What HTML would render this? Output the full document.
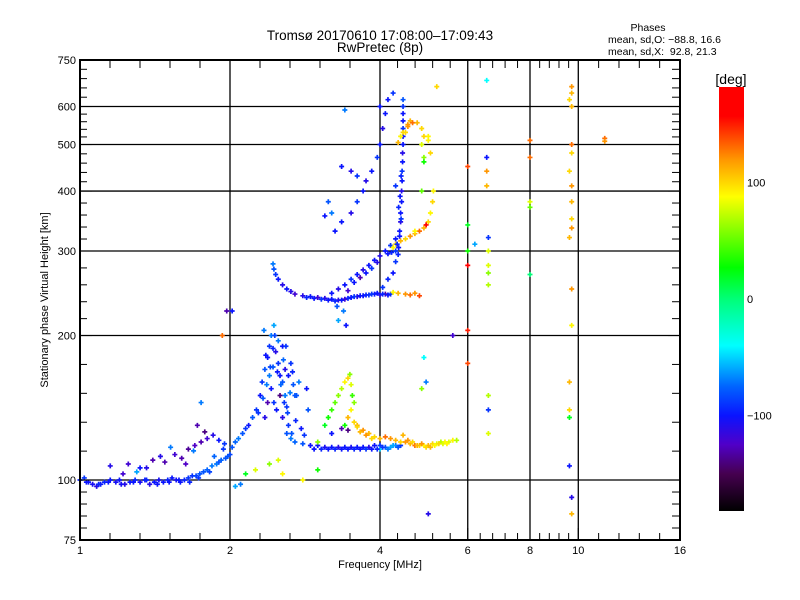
<!DOCTYPE html>
<html><head><meta charset="utf-8"><style>
body{margin:0;background:#fff;}
svg{display:block;font-family:"Liberation Sans","DejaVu Sans",sans-serif;}
</style></head><body>
<svg id="c" width="800" height="600" viewBox="0 0 800 600">
<g id="grid"></g>
<g id="pts"></g>
<g id="axes"></g>
<g id="cbar"></g>
<text x="380" y="40" text-anchor="middle" font-size="13.5">Tromsø 20170610 17:08:00–17:09:43</text>
<text x="380" y="52" text-anchor="middle" font-size="13.5">RwPretec (8p)</text>
<text x="648" y="31" text-anchor="middle" font-size="10.5">Phases</text>
<text x="608" y="43" font-size="10.5">mean, sd,O: −88.8, 16.6</text>
<text x="608" y="55" font-size="10.5" xml:space="preserve">mean, sd,X:  92.8, 21.3</text>
<text x="380" y="568" text-anchor="middle" font-size="11">Frequency [MHz]</text>
<text transform="translate(48,300) rotate(-90)" text-anchor="middle" font-size="11">Stationary phase Virtual Height [km]</text>
</svg>
<script>
const xMajor=[1,2,4,6,8,10,16];
const xGrid=[2,4,6,8,10];
const yLabels=[75,100,200,300,400,500,600,750];
const yGrid=[100,200,300,400,500,600];
const cbTicks=[100,0,-100];
const freq=[1.00,1.02,1.04,1.06,1.08,1.10,1.12,1.15,1.18,1.20,1.23,1.26,1.29,1.32,1.35,1.38,1.41,1.44,1.47,1.50,1.53,1.56,1.59,1.62,1.65,1.68,1.71,1.74,1.77,1.80,1.84,1.88,1.92,1.96,2.00,
1.15,1.25,1.32,1.40,1.45,1.55,1.60,1.65,1.70,1.75,1.80,1.85,1.90,1.95,1.52,1.72,1.78,1.30,
2.02,2.05,2.08,2.12,2.15,2.18,2.22,2.26,2.30,2.32,2.35,2.38,2.40,2.42,2.45,2.47,2.50,2.52,2.55,2.58,2.42,2.45,2.48,2.35,2.55,2.60,2.62,2.65,2.68,2.70,2.50,2.55,2.40,2.58,2.38,2.52,2.75,2.85,2.87,
2.60,2.65,2.70,2.80,2.90,3.0,3.1,3.2,3.3,3.4,3.5,3.6,3.7,3.8,3.9,4.0,4.1,4.2,4.3,4.4,4.0,
3.10,3.15,3.20,3.25,3.30,3.35,3.40,3.45,3.50,3.52,3.55,3.50,3.45,3.40,3.48,
3.55,3.6,3.7,3.8,3.9,4.0,4.1,4.2,4.3,4.4,4.5,4.6,4.7,4.8,4.9,5.0,5.1,5.2,5.3,5.4,5.5,5.6,5.7,3.35,3.45,3.2,
2.44,2.45,2.47,2.50,2.55,2.60,2.65,2.70,2.80,2.90,3.0,3.1,3.2,3.3,3.4,3.5,3.6,3.7,3.8,3.9,4.0,4.1,4.2,
4.25,4.35,4.5,4.6,4.7,4.8,
3.2,3.3,3.4,3.5,3.6,3.7,3.8,3.9,4.0,4.1,4.2,4.3,3.45,3.55,3.65,3.75,3.85,3.95,
4.38,4.40,4.40,4.42,4.42,4.43,4.43,4.44,4.44,4.45,4.45,4.45,4.45,4.45,4.45,4.45,
3.25,3.35,3.5,3.6,3.7,3.75,3.85,3.95,4.0,4.05,4.1,4.15,4.25,
3.15,3.2,3.1,3.35,3.5,3.6,4.0,3.4,
4.25,4.3,4.4,4.5,4.6,4.7,4.8,4.9,5.0,5.05,5.1,5.12,4.95,4.7,
4.6,4.55,4.5,4.4,4.85,5.2,4.9,5.0,4.85,4.9,
6.0,6.0,6.0,6.0,6.0,6.0,
6.55,6.55,6.55,6.55,6.6,6.6,6.6,6.6,6.6,6.6,6.6,6.6,6.2,
8.0,8.0,8.0,8.0,8.0,
9.7,9.7,9.6,9.7,9.7,9.7,9.6,9.7,9.7,9.7,9.7,9.6,9.7,9.7,9.6,9.6,9.6,9.6,9.7,9.7,
11.3,11.3,
1.97,2.02,1.93,1.75,2.15,2.25,2.4,2.55,2.8,2.1,2.05,2.5,3.0,3.0,5.0,5.6,4.9,4.95,4.85,
1.03,1.09,1.14,1.21,1.28,1.36,1.43,1.51,1.58,1.66,1.73,1.82,1.90,1.98,1.22,1.36,1.48,1.63,1.69,1.86,1.94,
2.28,2.33,2.37,2.41,2.44,2.49,2.53,2.57,2.61,2.64,2.67,2.72,2.36,2.46,2.56,2.62,2.66,2.71,2.78,2.82,2.34,2.44,2.59,
2.95,3.05,3.15,3.25,3.35,3.45,3.55,3.65,3.75,3.85,3.95,4.05,4.15,4.25,4.35,
2.85,2.95,3.05,3.15,3.25,3.35,3.45,3.55,3.65,3.75,3.85,3.95,4.05,4.15,
4.05,4.15,4.25,4.3,4.35,4.15,4.22,4.3,4.36,4.33,4.38,4.41,4.36,4.39,4.30,4.41,
4.45,4.55,4.65,4.75,4.85,4.95,5.05,5.15,5.25,5.35,5.45,3.6,3.65,3.75,3.85,
4.35,4.45,4.55,4.65,4.75,4.85,4.9,5.0,5.05,3.3,3.38,3.42,3.28];
const height=[100,101,99,98,97,98,99,100,99,100,98,99,100,99,100,98,99,100,99,100,101,100,99,100,101,102,102,103,104,105,107,108,110,111,113,
107,108,106,110,112,113,111,116,118,120,122,124,121,119,117,130,126,104,
117,120,122,125,128,130,135,140,150,160,170,180,190,200,210,185,175,165,160,150,155,145,140,135,135,142,165,175,158,150,195,190,165,170,145,150,160,155,140,
125,122,120,119,118,118,117,117,117,117,117,117,117,117,118,118,117,117,118,118,116,
130,135,140,145,150,155,160,163,158,150,145,140,135,130,166,
132,130,127,125,123,122,123,122,121,120,120,119,118,118,118,118,119,119,120,120,120,121,121,128,127,125,
282,275,268,262,255,250,247,244,242,241,240,239,238,237,238,240,241,242,243,244,243,244,244,
246,245,244,243,245,242,
245,250,255,262,268,274,280,287,293,300,308,318,248,258,264,270,276,284,
330,345,360,380,400,420,440,460,480,500,520,540,560,580,600,620,
330,345,360,380,400,420,440,470,500,540,580,620,640,
380,360,355,450,440,430,600,590,
305,310,315,318,322,326,330,335,345,360,380,400,340,330,
560,550,530,520,500,660,470,520,400,460,
280,205,175,450,340,300,
680,470,440,410,320,300,280,270,255,150,140,125,310,
510,380,370,268,470,
660,640,620,600,500,480,440,410,380,350,335,320,250,210,160,140,135,107,92,85,
515,508,
225,225,200,145,103,105,108,103,100,98,97,110,120,105,85,200,180,160,155,
99,98,99,98,99,100,98,99,100,99,101,104,109,112,103,106,109,108,115,112,116,
138,148,158,172,188,168,158,145,138,152,168,150,182,200,178,130,125,133,128,124,205,172,190,
116,116,116,116,116,116,116,116,116,116,116,117,116,118,117,
240,239,238,237,236,237,239,241,242,243,244,245,244,243,
252,262,270,285,295,296,298,300,305,310,322,350,370,390,410,430,
124,121,120,118,119,117,117,118,119,119,119,129,126,124,122,
505,530,545,555,555,540,520,510,480,215,225,210,230];
const phase=[-95,-90,-100,-105,-110,-100,-95,-100,-105,-100,-110,-100,-95,-105,-100,-110,-100,-105,-100,-95,-100,-105,-100,-95,-90,-90,-85,-80,-80,-75,-70,-70,-75,-80,-85,
-110,-120,-100,-130,-110,-120,-130,-135,-125,-130,-120,-110,-100,-90,-70,-130,-140,-60,
-80,-75,-70,-80,-90,-100,-80,-90,-100,-90,-80,-100,-90,-70,-60,-110,-90,-100,-80,-70,-100,-90,-100,-110,-110,-90,-100,-90,-80,-80,-70,-100,-70,-110,-130,-140,-70,-100,-80,
-80,-70,-75,-80,-100,-100,-105,-100,-110,-100,-105,-100,-100,-110,-100,-90,-80,-60,-70,-90,-50,
20,30,40,50,60,70,90,100,80,40,60,90,110,30,60,
100,110,120,110,100,110,130,120,110,100,120,110,130,100,90,110,100,80,70,90,80,90,70,-130,-140,-100,
-70,-80,-90,-100,-110,-100,-110,-120,-110,-100,-120,-110,-100,-110,-120,-100,-110,-100,-90,-100,-110,-130,-90,
90,110,120,130,120,140,
-100,-110,-100,-90,-100,-110,-100,-100,-110,-100,-90,-100,-120,-100,-130,-100,-90,-110,
-100,-110,-100,-100,-110,-100,-90,-100,-110,-100,-100,-90,-100,-100,-90,-80,
-100,-100,-110,-90,-100,-110,-100,-90,-100,-110,-100,-100,-90,
-80,-70,-100,-100,-110,-90,-100,-70,
90,100,110,100,120,110,130,110,100,90,100,90,160,90,
110,120,100,90,80,100,60,90,50,30,
160,150,140,140,20,30,
-40,-100,120,110,-90,80,80,60,70,70,-90,80,-60,
130,80,50,0,130,
120,110,100,110,130,100,100,120,110,100,120,110,120,90,110,100,20,-100,-110,110,
130,120,
-130,-100,130,-70,20,80,60,90,90,-70,-60,80,60,30,-110,-120,-40,-70,60,
-100,-95,-100,-105,-100,-95,-100,-100,-100,-95,-90,-85,-80,-80,-120,-110,-130,-125,-70,-75,-90,
-90,-80,-70,-85,-95,-100,-75,-90,-85,-70,-95,-80,-100,-85,-75,-90,-80,-95,-100,-90,-70,-80,-90,
-100,-95,-100,-95,-100,-100,-95,-100,-90,-100,-95,-90,-70,-60,-80,
-95,-100,-90,-100,-95,-100,-95,-90,-100,-95,-90,-100,-95,-100,
-90,-95,-100,-90,-95,-100,-95,-90,-100,-95,-100,-90,-95,-100,-90,-95,
110,120,100,110,120,100,110,90,100,80,90,100,110,120,100,
110,100,120,130,110,100,100,90,100,-60,-70,-100,-80];

const X0=80,X1=680,Y0=60,Y1=540;
function xs(f){return X0+150*Math.log2(f);}
const hMin=75,hMax=750;
function ys(h){return Y1-(Y1-Y0)*Math.log10(h/hMin)/Math.log10(hMax/hMin);}
const CB0=87,CB1=511,CBmin=-182,CBmax=182;
function cbY(v){return CB1-(CB1-CB0)*(v-CBmin)/(CBmax-CBmin);}
const stops=[[-182,0,0,0],[-150,70,0,80],[-125,80,0,200],[-100,10,20,255],[-75,0,100,255],[-40,0,255,255],[0,0,255,120],[27,0,255,0],[88,255,255,0],[120,255,150,0],[157,255,0,0],[182,255,0,0]];
function col(v){v=Math.max(-182,Math.min(182,v));for(let i=1;i<stops.length;i++){if(v<=stops[i][0]){const a=stops[i-1],b=stops[i],t=(v-a[0])/(b[0]-a[0]);return 'rgb('+[1,2,3].map(k=>Math.round(a[k]+t*(b[k]-a[k]))).join(',')+')';}}return 'red';}
const NS='http://www.w3.org/2000/svg';
function mk(tag,attrs,parent){const e=document.createElementNS(NS,tag);for(const k in attrs)e.setAttribute(k,attrs[k]);parent.appendChild(e);return e;}
const grid=document.getElementById('grid'),axes=document.getElementById('axes'),pts=document.getElementById('pts'),cbar=document.getElementById('cbar');
xGrid.forEach(f=>{const l=mk('line',{x1:xs(f),x2:xs(f),y1:Y0,y2:Y1,stroke:'#000','stroke-width':1.3},grid);

});
yGrid.forEach(h=>{const l=mk('line',{x1:X0,x2:X1,y1:ys(h),y2:ys(h),stroke:'#000','stroke-width':1.3},grid);

});
for(let i=0;i<freq.length;i++){const x=xs(freq[i]),y=ys(height[i]);
const p=mk('path',{d:`M${x-2.5} ${y}h5M${x} ${y-2.5}v5`,stroke:col(phase[i]),'stroke-width':1.7},pts);

}
mk('rect',{x:X0,y:Y0,width:X1-X0,height:Y1-Y0,fill:'none',stroke:'#000','stroke-width':2},axes);
for(let i=0;i<xMajor.length-1;i++){const a=Math.log2(xMajor[i]),b=Math.log2(xMajor[i+1]);for(let j=1;j<5;j++){const x=X0+150*(a+(b-a)*j/5);
mk('line',{x1:x,x2:x,y1:Y1,y2:Y1-7,stroke:'#000'},axes);mk('line',{x1:x,x2:x,y1:Y0,y2:Y0+8,stroke:'#000'},axes);}}
xMajor.forEach(f=>{const x=xs(f);mk('line',{x1:x,x2:x,y1:Y1,y2:Y1-12,stroke:'#000'},axes);
const t=mk('text',{x:x,y:554,'text-anchor':'middle','font-size':11},axes);t.textContent=f;

});
for(let i=0;i<yLabels.length-1;i++){const a=ys(yLabels[i]),b=ys(yLabels[i+1]);for(let j=1;j<5;j++){const y=a+(b-a)*j/5;
mk('line',{x1:X0,x2:X0+7,y1:y,y2:y,stroke:'#000'},axes);mk('line',{x1:X1,x2:X1-8,y1:y,y2:y,stroke:'#000'},axes);}}
yLabels.forEach(h=>{const y=ys(h);mk('line',{x1:X0,x2:X0+12,y1:y,y2:y,stroke:'#000'},axes);mk('line',{x1:X1,x2:X1-12,y1:y,y2:y,stroke:'#000'},axes);
const t=mk('text',{x:76,y:y+4,'text-anchor':'end','font-size':11},axes);t.textContent=h;

});
const defs=mk('defs',{},cbar);const g=mk('linearGradient',{id:'cg',x1:0,y1:1,x2:0,y2:0},defs);
stops.forEach(s=>{mk('stop',{offset:(s[0]-CBmin)/(CBmax-CBmin),'stop-color':`rgb(${s[1]},${s[2]},${s[3]})`},g);});
const r=mk('rect',{x:719,y:CB0,width:25,height:CB1-CB0,fill:'url(#cg)'},cbar);


const ct=mk('text',{x:731,y:84,'text-anchor':'middle','font-size':14},cbar);ct.textContent='[deg]';


cbTicks.forEach(v=>{const t=mk('text',{x:747,y:cbY(v)+4,'font-size':11},cbar);t.textContent=v<0?'−'+(-v):v;

});
</script>
</body></html>
